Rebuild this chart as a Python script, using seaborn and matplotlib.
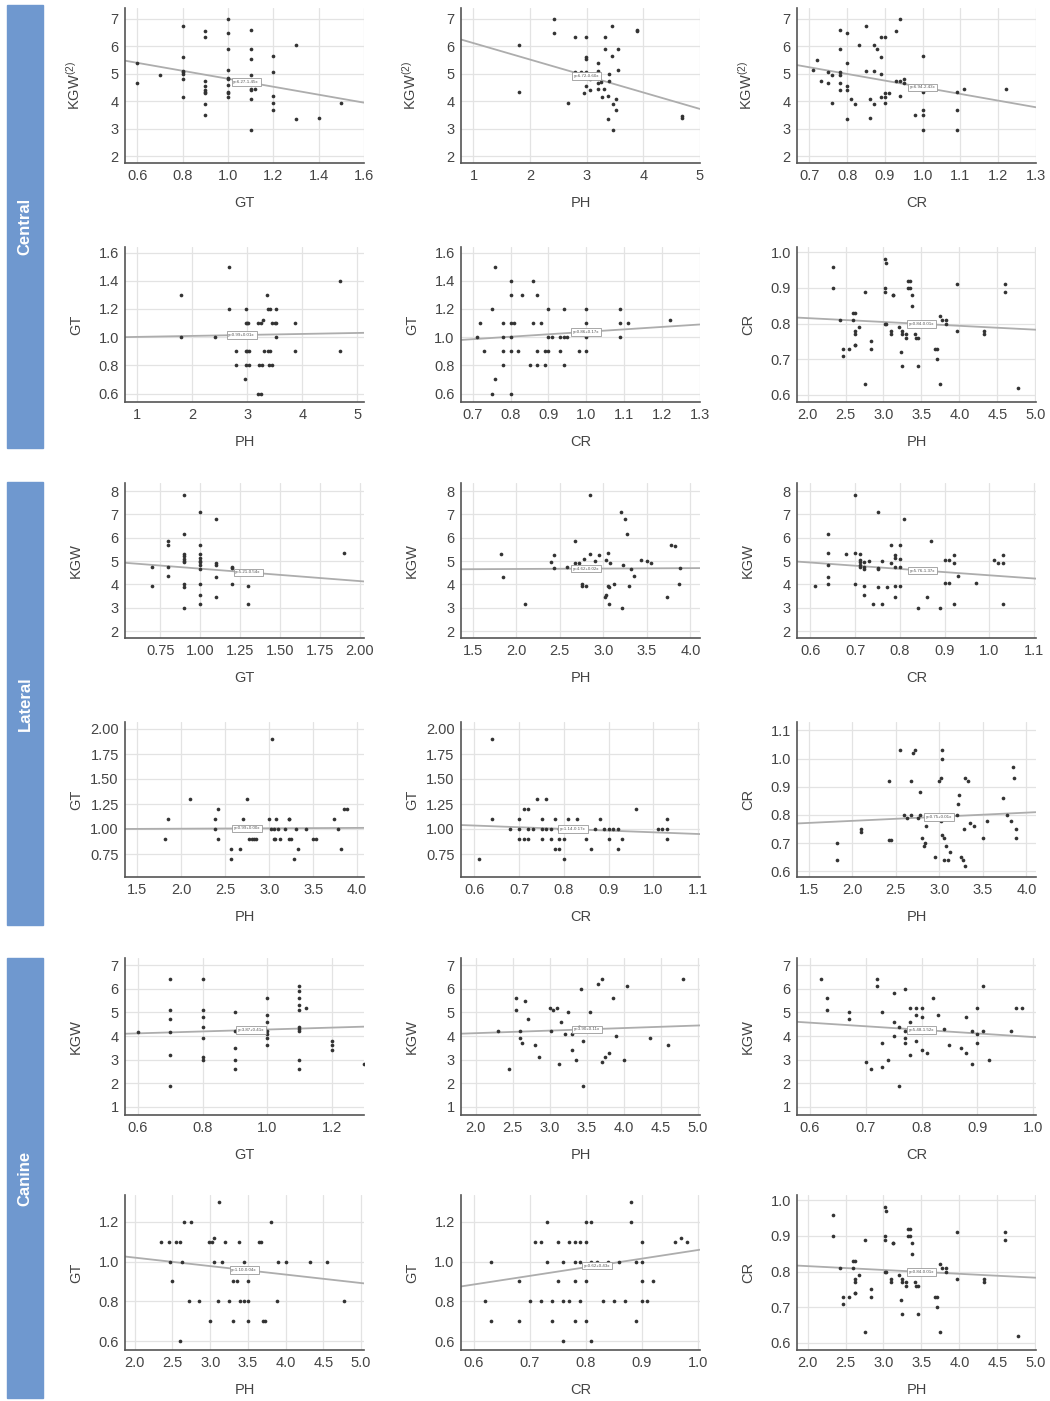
import numpy as np
import pandas as pd
import matplotlib
matplotlib.use("Agg")
import matplotlib.pyplot as plt
from matplotlib.patches import Rectangle
import seaborn as sns

# ---- data (x, y) per panel ----
central_kgw_gt = [(0.6, 5.4), (0.6, 4.65), (0.7, 4.95), (0.8, 6.75), (0.8, 5.6), (0.8, 5.1), (0.8, 5.05),
                  (0.8, 5.0), (0.8, 4.8), (0.8, 4.15), (0.9, 6.55), (0.9, 6.35), (0.9, 4.75), (0.9, 4.55),
                  (0.9, 4.4), (0.9, 4.3), (0.9, 4.35), (0.9, 3.9), (0.9, 3.5), (1.0, 7.0), (1.0, 6.5),
                  (1.0, 5.9), (1.0, 5.15), (1.0, 4.85), (1.0, 4.8), (1.0, 4.6), (1.0, 4.35), (1.0, 4.3),
                  (1.0, 4.15), (1.1, 6.6), (1.1, 5.9), (1.1, 5.55), (1.1, 4.95), (1.1, 4.45), (1.1, 4.4),
                  (1.1, 4.1), (1.1, 2.95), (1.12, 4.45), (1.2, 5.65), (1.2, 5.05), (1.2, 4.2), (1.2, 3.95),
                  (1.2, 3.7), (1.3, 6.05), (1.3, 3.35), (1.4, 3.4), (1.5, 3.95)]
central_kgw_ph = [(1.8, 6.05), (1.8, 4.35), (2.43, 7.0), (2.43, 6.5), (2.67, 3.95), (2.8, 6.35), (2.8, 5.05),
                  (2.95, 4.3), (2.98, 6.35), (2.98, 5.6), (2.98, 5.55), (2.98, 5.05), (2.98, 4.55), (3.05, 4.8),
                  (3.05, 4.4), (3.2, 5.4), (3.2, 5.1), (3.2, 4.65), (3.2, 4.45), (3.25, 4.7), (3.27, 4.15),
                  (3.3, 4.45), (3.33, 6.35), (3.33, 5.9), (3.38, 4.2), (3.38, 3.35), (3.4, 5.0), (3.4, 4.75),
                  (3.45, 6.75), (3.45, 5.65), (3.47, 3.9), (3.47, 2.95), (3.52, 4.1), (3.52, 3.7), (3.55, 5.9),
                  (3.55, 5.15), (3.88, 6.6), (3.88, 6.55), (4.68, 3.45), (4.68, 3.38), (2.9, 5.05)]
central_kgw_cr = [(0.71, 5.15), (0.72, 5.5), (0.73, 4.75), (0.75, 5.05), (0.75, 4.65), (0.76, 4.95), (0.76, 3.95),
                  (0.78, 6.6), (0.78, 5.9), (0.78, 5.05), (0.78, 4.95), (0.78, 4.65), (0.78, 4.4), (0.8, 6.5),
                  (0.8, 5.4), (0.8, 4.55), (0.8, 4.4), (0.8, 3.35), (0.81, 4.1), (0.82, 3.9), (0.83, 6.05),
                  (0.85, 6.75), (0.85, 5.1), (0.86, 4.1), (0.86, 3.4), (0.87, 6.05), (0.87, 5.1), (0.87, 3.9),
                  (0.88, 5.9), (0.89, 6.35), (0.89, 5.6), (0.89, 5.0), (0.89, 4.15), (0.9, 6.35), (0.9, 4.3),
                  (0.9, 4.15), (0.9, 3.95), (0.91, 4.3), (0.93, 6.55), (0.93, 4.75), (0.94, 7.0), (0.94, 4.75),
                  (0.94, 4.2), (0.95, 4.8), (0.95, 4.65), (0.98, 3.5), (1.0, 5.65), (1.0, 4.35), (1.0, 3.7),
                  (1.0, 3.5), (1.0, 2.95), (1.09, 4.35), (1.09, 3.7), (1.09, 2.95), (1.11, 4.45), (1.22, 4.45)]
central_gt_ph = [(1.8, 1.3), (1.8, 1.0), (2.42, 1.0), (2.67, 1.5), (2.67, 1.2), (2.8, 0.9), (2.8, 0.8), (2.95, 0.7),
                 (2.97, 1.2), (2.97, 1.1), (3.0, 1.1), (3.02, 1.1), (2.97, 0.9), (3.0, 0.9), (3.03, 0.9),
                 (2.98, 0.8), (3.03, 0.8), (3.2, 1.1), (3.25, 1.1), (3.28, 1.12), (3.22, 0.8), (3.27, 0.8),
                 (3.2, 0.6), (3.25, 0.6), (3.35, 1.3), (3.37, 1.2), (3.42, 1.2), (3.3, 0.9), (3.37, 0.9),
                 (3.42, 0.9), (3.4, 0.8), (3.45, 0.8), (3.45, 1.1), (3.5, 1.1), (3.53, 1.1), (3.52, 1.2),
                 (3.53, 1.0), (3.87, 1.1), (3.87, 0.9), (4.68, 1.4), (4.68, 0.9)]
central_gt_cr = [(0.71, 1.0), (0.72, 1.1), (0.73, 0.9), (0.75, 1.2), (0.75, 0.6), (0.76, 1.5), (0.76, 0.7),
                 (0.78, 1.1), (0.78, 1.0), (0.78, 0.9), (0.78, 0.8), (0.8, 1.4), (0.8, 1.3), (0.8, 1.1),
                 (0.8, 1.0), (0.8, 0.9), (0.8, 0.6), (0.81, 1.1), (0.82, 0.9), (0.83, 1.3), (0.85, 0.8),
                 (0.86, 1.4), (0.86, 1.1), (0.87, 1.3), (0.87, 0.9), (0.87, 0.8), (0.88, 1.1), (0.89, 0.9),
                 (0.89, 0.8), (0.9, 1.2), (0.9, 1.0), (0.9, 0.9), (0.91, 1.0), (0.93, 1.0), (0.93, 0.9),
                 (0.94, 1.2), (0.94, 1.0), (0.94, 0.8), (0.95, 1.0), (0.98, 0.9), (1.0, 1.2), (1.0, 1.1),
                 (1.0, 1.0), (1.0, 0.9), (1.09, 1.2), (1.09, 1.1), (1.09, 1.0), (1.11, 1.1), (1.22, 1.12)]
cr_ph = [(2.33, 0.96), (2.33, 0.9), (2.43, 0.81), (2.47, 0.73), (2.47, 0.71), (2.55, 0.73), (2.6, 0.83),
         (2.62, 0.83), (2.6, 0.81), (2.62, 0.78), (2.62, 0.77), (2.62, 0.74), (2.63, 0.74), (2.68, 0.79),
         (2.75, 0.89), (2.75, 0.63), (2.83, 0.75), (2.83, 0.73), (3.02, 0.98), (3.03, 0.97), (3.02, 0.9),
         (3.02, 0.89), (3.02, 0.8), (3.03, 0.8), (3.1, 0.78), (3.1, 0.77), (3.12, 0.88), (3.13, 0.88),
         (3.2, 0.79), (3.23, 0.72), (3.25, 0.78), (3.25, 0.77), (3.25, 0.68), (3.3, 0.77), (3.3, 0.76),
         (3.32, 0.92), (3.35, 0.92), (3.32, 0.9), (3.35, 0.9), (3.38, 0.88), (3.38, 0.85), (3.42, 0.77),
         (3.43, 0.76), (3.45, 0.76), (3.45, 0.68), (3.68, 0.73), (3.7, 0.73), (3.7, 0.7), (3.75, 0.82),
         (3.77, 0.81), (3.75, 0.63), (3.82, 0.81), (3.82, 0.8), (3.97, 0.91), (3.97, 0.78), (4.33, 0.78),
         (4.33, 0.77), (4.6, 0.91), (4.6, 0.89), (4.77, 0.62)]

lateral_kgw_gt = [(0.7, 4.75), (0.7, 3.95), (0.8, 5.85), (0.8, 5.7), (0.8, 4.75), (0.8, 4.35), (0.9, 7.85),
                  (0.9, 6.15), (0.9, 5.3), (0.9, 5.2), (0.9, 5.1), (0.9, 5.0), (0.9, 4.95), (0.9, 4.0),
                  (0.9, 3.9), (0.9, 3.0), (1.0, 7.1), (1.0, 5.7), (1.0, 5.3), (1.0, 5.15), (1.0, 5.0),
                  (1.0, 4.95), (1.0, 4.85), (1.0, 4.65), (1.0, 4.0), (1.0, 3.55), (1.0, 3.15), (1.1, 6.8),
                  (1.1, 4.9), (1.1, 4.85), (1.1, 4.3), (1.1, 3.45), (1.2, 4.75), (1.2, 4.7), (1.2, 4.0),
                  (1.3, 3.95), (1.3, 3.15), (1.9, 5.35)]
lateral_kgw_ph = [(1.83, 5.3), (1.85, 4.3), (2.1, 3.15), (2.4, 4.95), (2.43, 5.25), (2.43, 4.7), (2.58, 4.75),
                  (2.68, 5.85), (2.68, 4.9), (2.72, 4.9), (2.75, 4.0), (2.75, 3.95), (2.8, 3.95), (2.78, 5.1),
                  (2.85, 7.85), (2.85, 5.3), (2.9, 5.0), (2.95, 5.25), (3.02, 3.45), (3.03, 5.05), (3.03, 3.55),
                  (3.05, 5.35), (3.05, 3.95), (3.07, 3.9), (3.06, 3.15), (3.08, 4.9), (3.12, 4.0), (3.2, 7.1),
                  (3.22, 3.0), (3.23, 4.85), (3.25, 6.8), (3.27, 6.15), (3.3, 3.95), (3.32, 4.65), (3.35, 4.35),
                  (3.43, 5.05), (3.5, 5.0), (3.55, 4.9), (3.73, 3.45), (3.78, 5.7), (3.82, 5.65), (3.87, 4.0),
                  (3.88, 4.7)]
lateral_kgw_cr = [(0.61, 3.95), (0.64, 6.15), (0.64, 5.35), (0.64, 4.85), (0.64, 4.3), (0.64, 4.0), (0.68, 5.3),
                  (0.7, 7.85), (0.7, 5.35), (0.7, 4.0), (0.71, 5.3), (0.71, 5.05), (0.71, 4.95), (0.71, 4.85),
                  (0.71, 4.75), (0.72, 4.95), (0.72, 4.75), (0.72, 4.65), (0.72, 3.95), (0.72, 3.55), (0.73, 5.0),
                  (0.74, 3.15), (0.75, 7.1), (0.75, 4.7), (0.75, 4.65), (0.75, 3.9), (0.76, 5.0), (0.76, 3.15),
                  (0.77, 3.9), (0.78, 5.7), (0.78, 4.9), (0.79, 5.25), (0.79, 5.15), (0.79, 4.75), (0.79, 3.95),
                  (0.79, 3.45), (0.8, 5.7), (0.8, 5.1), (0.8, 4.75), (0.8, 3.95), (0.81, 6.8), (0.84, 3.0),
                  (0.86, 3.45), (0.87, 5.85), (0.89, 3.0), (0.9, 5.05), (0.9, 4.05), (0.91, 5.05), (0.91, 4.05),
                  (0.92, 5.25), (0.92, 4.9), (0.92, 3.15), (0.93, 4.35), (0.97, 4.05), (1.01, 5.05), (1.02, 4.9),
                  (1.03, 5.25), (1.03, 4.9), (1.03, 3.15)]
lateral_gt_ph = [(1.82, 0.9), (1.85, 1.1), (2.1, 1.3), (2.38, 1.1), (2.38, 1.0), (2.42, 1.2), (2.42, 0.9),
                 (2.57, 0.8), (2.57, 0.7), (2.67, 0.8), (2.7, 1.1), (2.75, 1.3), (2.77, 0.9), (2.8, 0.9),
                 (2.83, 0.9), (2.85, 0.9), (3.0, 1.1), (3.02, 1.0), (3.03, 1.9), (3.05, 1.0), (3.05, 0.9),
                 (3.07, 0.9), (3.08, 1.1), (3.1, 1.0), (3.12, 0.9), (3.18, 1.0), (3.22, 1.1), (3.23, 1.1),
                 (3.22, 0.9), (3.25, 0.9), (3.28, 0.7), (3.3, 1.0), (3.33, 0.8), (3.42, 1.0), (3.5, 0.9),
                 (3.53, 0.9), (3.73, 1.1), (3.78, 1.0), (3.82, 0.8), (3.85, 1.2), (3.88, 1.2), (2.9, 1.0)]
lateral_gt_cr = [(0.61, 0.7), (0.64, 1.9), (0.64, 1.1), (0.68, 1.0), (0.7, 1.1), (0.7, 1.0), (0.7, 0.9),
                 (0.71, 1.2), (0.72, 1.2), (0.71, 0.9), (0.72, 1.0), (0.72, 0.9), (0.73, 1.0), (0.74, 1.3),
                 (0.75, 1.1), (0.75, 1.0), (0.75, 0.9), (0.76, 1.3), (0.76, 1.0), (0.77, 1.0), (0.77, 0.9),
                 (0.78, 1.1), (0.78, 0.8), (0.79, 1.0), (0.79, 0.9), (0.79, 0.8), (0.8, 1.0), (0.8, 0.9),
                 (0.8, 0.7), (0.81, 1.1), (0.82, 1.0), (0.83, 1.1), (0.84, 1.0), (0.85, 0.9), (0.86, 0.8),
                 (0.87, 1.0), (0.88, 1.1), (0.89, 1.0), (0.9, 1.0), (0.9, 0.9), (0.91, 1.0), (0.92, 1.0),
                 (0.92, 0.8), (0.93, 0.9), (0.96, 1.2), (1.01, 1.0), (1.02, 1.0), (1.03, 1.0), (1.03, 1.1),
                 (1.03, 0.9)]
lateral_cr_ph = [(1.82, 0.7), (1.83, 0.64), (2.1, 0.75), (2.1, 0.74), (2.42, 0.92), (2.42, 0.71), (2.45, 0.71),
                 (2.55, 1.03), (2.6, 0.8), (2.63, 0.79), (2.67, 0.8), (2.68, 0.92), (2.7, 1.02), (2.72, 1.03),
                 (2.75, 0.79), (2.78, 0.8), (2.78, 0.88), (2.8, 0.72), (2.82, 0.69), (2.83, 0.7), (2.85, 0.76),
                 (2.95, 0.65), (3.0, 0.92), (3.02, 0.93), (3.03, 1.0), (3.03, 1.03), (3.02, 0.78), (3.03, 0.73),
                 (3.05, 0.72), (3.05, 0.64), (3.08, 0.69), (3.1, 0.64), (3.12, 0.67), (3.2, 0.8), (3.22, 0.84),
                 (3.23, 0.87), (3.25, 0.65), (3.27, 0.64), (3.28, 0.75), (3.3, 0.62), (3.3, 0.93), (3.33, 0.92),
                 (3.35, 0.77), (3.4, 0.76), (3.5, 0.72), (3.55, 0.78), (3.73, 0.86), (3.78, 0.8), (3.82, 0.78),
                 (3.85, 0.97), (3.86, 0.93), (3.88, 0.75), (3.88, 0.72)]

canine_kgw_gt = [(0.6, 4.15), (0.7, 6.4), (0.7, 5.1), (0.7, 4.7), (0.7, 4.15), (0.7, 3.2), (0.7, 1.9), (0.8, 6.4),
                 (0.8, 5.1), (0.8, 4.8), (0.8, 4.4), (0.8, 3.9), (0.8, 3.1), (0.8, 3.0), (0.9, 5.0), (0.9, 4.2),
                 (0.9, 3.5), (0.9, 3.0), (0.9, 2.6), (1.0, 5.6), (1.0, 4.9), (1.0, 4.6), (1.0, 4.2), (1.0, 4.1),
                 (1.0, 3.9), (1.0, 3.6), (1.1, 6.1), (1.1, 5.9), (1.1, 5.6), (1.1, 5.3), (1.1, 5.1), (1.1, 4.4),
                 (1.1, 4.3), (1.1, 4.2), (1.1, 3.0), (1.1, 2.6), (1.12, 5.2), (1.2, 3.8), (1.2, 3.6),
                 (1.2, 3.4), (1.3, 2.8)]
canine_kgw_ph = [(2.3, 4.2), (2.45, 2.6), (2.55, 5.6), (2.55, 5.1), (2.6, 4.2), (2.6, 3.9), (2.62, 3.7),
                 (2.67, 5.5), (2.7, 4.7), (2.8, 3.6), (2.85, 3.1), (3.0, 5.2), (3.02, 4.2), (3.05, 5.1),
                 (3.1, 5.2), (3.12, 2.8), (3.15, 4.6), (3.2, 4.1), (3.25, 5.0), (3.3, 3.4), (3.35, 3.0),
                 (3.4, 4.4), (3.42, 6.0), (3.45, 1.9), (3.45, 3.8), (3.5, 4.3), (3.55, 5.0), (3.6, 4.3),
                 (3.65, 6.2), (3.7, 6.4), (3.7, 2.9), (3.75, 3.1), (3.8, 3.3), (3.85, 5.6), (3.9, 4.0),
                 (4.0, 3.0), (4.05, 6.1), (4.35, 3.9), (4.6, 3.6), (4.8, 6.4), (3.3, 4.1)]
canine_kgw_cr = [(0.62, 6.4), (0.63, 5.6), (0.63, 5.1), (0.67, 5.0), (0.67, 4.7), (0.7, 2.9), (0.71, 2.6),
                 (0.72, 6.4), (0.72, 6.1), (0.73, 5.0), (0.73, 3.7), (0.73, 2.7), (0.74, 3.0), (0.75, 5.8),
                 (0.75, 4.6), (0.75, 4.0), (0.76, 4.4), (0.76, 1.9), (0.77, 6.0), (0.77, 4.2), (0.77, 3.9),
                 (0.77, 3.7), (0.78, 5.2), (0.78, 4.6), (0.78, 3.2), (0.79, 5.2), (0.79, 4.9), (0.79, 4.2),
                 (0.79, 3.8), (0.8, 5.2), (0.8, 4.8), (0.8, 4.2), (0.8, 3.4), (0.81, 3.3), (0.82, 5.6),
                 (0.83, 4.9), (0.84, 4.3), (0.85, 3.6), (0.87, 3.5), (0.88, 4.8), (0.88, 3.3), (0.89, 4.2),
                 (0.89, 2.8), (0.9, 5.2), (0.9, 4.1), (0.9, 3.7), (0.91, 6.1), (0.91, 4.2), (0.92, 3.0),
                 (0.96, 4.2), (0.97, 5.2), (0.98, 5.2)]
canine_gt_ph = [(2.35, 1.1), (2.45, 1.1), (2.47, 1.0), (2.5, 0.9), (2.55, 1.1), (2.6, 1.1), (2.6, 0.6),
                (2.62, 1.0), (2.65, 1.2), (2.72, 0.8), (2.75, 1.2), (2.85, 0.8), (2.98, 1.1), (3.0, 0.7),
                (3.03, 1.1), (3.05, 1.12), (3.05, 1.0), (3.1, 0.8), (3.12, 1.3), (3.15, 1.0), (3.2, 1.1),
                (3.25, 0.8), (3.3, 0.9), (3.3, 0.7), (3.35, 0.9), (3.38, 1.1), (3.4, 0.8), (3.45, 1.0),
                (3.45, 0.8), (3.5, 0.7), (3.5, 0.9), (3.5, 0.8), (3.65, 1.1), (3.68, 1.1), (3.7, 0.7),
                (3.73, 0.7), (3.8, 1.2), (3.88, 0.8), (3.9, 1.0), (4.0, 1.0), (4.33, 1.0), (4.55, 1.0),
                (4.78, 0.8)]
canine_gt_cr = [(0.62, 0.8), (0.63, 1.0), (0.63, 0.7), (0.68, 0.7), (0.68, 0.9), (0.7, 0.8), (0.71, 1.1),
                (0.72, 1.1), (0.72, 0.8), (0.73, 1.2), (0.73, 1.0), (0.74, 0.8), (0.74, 0.7), (0.75, 1.1),
                (0.75, 0.9), (0.76, 1.0), (0.76, 0.8), (0.76, 0.6), (0.77, 1.1), (0.77, 0.8), (0.78, 1.1),
                (0.78, 1.0), (0.78, 0.9), (0.78, 0.7), (0.79, 1.1), (0.79, 1.0), (0.79, 0.8), (0.8, 1.2),
                (0.8, 1.1), (0.8, 0.9), (0.8, 0.7), (0.81, 1.2), (0.81, 1.0), (0.81, 0.6), (0.82, 1.0),
                (0.83, 0.8), (0.84, 1.0), (0.85, 0.8), (0.86, 1.0), (0.87, 0.8), (0.88, 1.3), (0.88, 1.2),
                (0.89, 1.0), (0.89, 0.7), (0.9, 1.1), (0.9, 1.0), (0.9, 0.9), (0.9, 0.8), (0.91, 0.8),
                (0.92, 0.9), (0.96, 1.1), (0.97, 1.12), (0.98, 1.1)]

groups = ["Central", "Lateral", "Canine"]

# regression line: intercept, slope (row-major order)
line_intercepts = [6.27, 6.72, 6.94, 0.995, 0.864, 0.837,
                   5.21, 4.625, 5.76, 0.995, 1.136, 0.75,
                   3.87, 3.905, 5.477, 1.105, 0.625, 0.837]
line_slopes = [-1.45, -0.60, -2.43, 0.007, 0.174, -0.0108,
               -0.535, 0.018, -1.37, 0.004, -0.169, 0.0146,
               0.405, 0.108, -1.52, -0.0426, 0.433, -0.0108]

kgw2 = r"KGW$^{(2)}$"
# panel specs: data, xlabel, ylabel, xlim, ylim, xticks, yticks, tick formats, label x position
panels = [
    (central_kgw_gt, "GT", kgw2, (0.545, 1.6), (1.75, 7.4), np.arange(0.6, 1.61, 0.2), range(2, 8), "%.1f", "%d", 1.08),
    (central_kgw_ph, "PH", kgw2, (0.78, 5.0), (1.75, 7.4), range(1, 6), range(2, 8), "%d", "%d", 3.0),
    (central_kgw_cr, "CR", kgw2, (0.667, 1.3), (1.75, 7.4), np.arange(0.7, 1.31, 0.1), range(2, 8), "%.1f", "%d", 1.0),
    (central_gt_ph, "PH", "GT", (0.78, 5.12), (0.54, 1.64), range(1, 6), np.arange(0.6, 1.61, 0.2), "%d", "%.1f", 2.9),
    (central_gt_cr, "CR", "GT", (0.669, 1.3), (0.54, 1.64), np.arange(0.7, 1.31, 0.1), np.arange(0.6, 1.61, 0.2), "%.1f", "%.1f", 1.0),
    (cr_ph, "PH", "CR", (1.86, 5.01), (0.58, 1.015), np.arange(2.0, 5.01, 0.5), np.arange(0.6, 1.01, 0.1), "%.1f", "%.1f", 3.5),
    (lateral_kgw_gt, "GT", "KGW", (0.53, 2.025), (1.7, 8.35), np.arange(0.75, 2.01, 0.25), range(2, 9), "%.2f", "%d", 1.3),
    (lateral_kgw_ph, "PH", "KGW", (1.366, 4.11), (1.7, 8.35), np.arange(1.5, 4.01, 0.5), range(2, 9), "%.1f", "%d", 2.8),
    (lateral_kgw_cr, "CR", "KGW", (0.57, 1.104), (1.7, 8.35), np.arange(0.6, 1.11, 0.1), range(2, 9), "%.1f", "%d", 0.85),
    (lateral_gt_ph, "PH", "GT", (1.364, 4.076), (0.52, 2.07), np.arange(1.5, 4.01, 0.5), np.arange(0.75, 2.01, 0.25), "%.1f", "%.2f", 2.75),
    (lateral_gt_cr, "CR", "GT", (0.57, 1.104), (0.52, 2.07), np.arange(0.6, 1.11, 0.1), np.arange(0.75, 2.01, 0.25), "%.1f", "%.2f", 0.82),
    (lateral_cr_ph, "PH", "CR", (1.366, 4.11), (0.58, 1.13), np.arange(1.5, 4.01, 0.5), np.arange(0.6, 1.11, 0.1), "%.1f", "%.1f", 3.0),
    (canine_kgw_gt, "GT", "KGW", (0.56, 1.3), (0.66, 7.3), np.arange(0.6, 1.21, 0.2), range(1, 8), "%.1f", "%d", 0.95),
    (canine_kgw_ph, "PH", "KGW", (1.8, 5.03), (0.66, 7.3), np.arange(2.0, 5.01, 0.5), range(1, 8), "%.1f", "%d", 3.5),
    (canine_kgw_cr, "CR", "KGW", (0.577, 1.005), (0.66, 7.3), np.arange(0.6, 1.01, 0.1), range(1, 8), "%.1f", "%d", 0.8),
    (canine_gt_ph, "PH", "GT", (1.87, 5.04), (0.555, 1.335), np.arange(2.0, 5.01, 0.5), np.arange(0.6, 1.21, 0.2), "%.1f", "%.1f", 3.45),
    (canine_gt_cr, "CR", "GT", (0.577, 1.004), (0.555, 1.335), np.arange(0.6, 1.01, 0.1), np.arange(0.6, 1.21, 0.2), "%.1f", "%.1f", 0.82),
    (cr_ph, "PH", "CR", (1.86, 5.01), (0.58, 1.015), np.arange(2.0, 5.01, 0.5), np.arange(0.6, 1.01, 0.1), "%.1f", "%.1f", 3.5),
]

sns.set_style("white")
plt.rcParams['font.family'] = ['Liberation Sans', 'DejaVu Sans']
plt.rcParams['mathtext.fontset'] = 'custom'
plt.rcParams['mathtext.rm'] = 'Liberation Sans'
plt.rcParams['mathtext.it'] = 'Liberation Sans'

W, H = 1050, 1401
fig = plt.figure(figsize=(W / 100, H / 100), dpi=100)

col_x = [(125, 364), (461, 700), (797, 1036)]
row_y = [(8, 163), (247, 402), (483, 638), (722, 877), (958, 1115), (1195, 1350)]
bands = [(5, 448), (482, 925), (958, 1398)]
band_color = "#6f98cf"
txt_color = "#444444"

for (y0, y1), name in zip(bands, groups):
    fig.patches.append(Rectangle((7 / W, 1 - y1 / H), 36 / W, (y1 - y0) / H,
                                 transform=fig.transFigure, color=band_color, zorder=0))
    fig.text(25 / W, 1 - (y0 + y1) / 2 / H, name, rotation=90, color="white",
             fontsize=12, fontweight="bold", ha="center", va="center")

for i, spec in enumerate(panels):
    pts, xl, yl, xlim, ylim, xt, yt, xf, yf, lab_x = spec
    r, c = divmod(i, 3)
    x0, x1 = col_x[c]
    y0, y1 = row_y[r]
    ax = fig.add_axes([x0 / W, 1 - y1 / H, (x1 - x0) / W, (y1 - y0) / H])
    df = pd.DataFrame(pts, columns=["x", "y"])
    sns.scatterplot(data=df, x="x", y="y", ax=ax, s=7, color="#333333", linewidth=0, zorder=3)

    b, m = line_intercepts[i], line_slopes[i]
    ax.axline((0, b), slope=m, color="#adadad", lw=1.3, zorder=2)
    ax.text(lab_x, b + m * lab_x, f"y={b:.2f}{m:+.2f}x", fontsize=3.2, color="#555555",
            ha="center", va="center", zorder=4,
            bbox=dict(boxstyle="square,pad=0.4", fc="white", ec="#999999", lw=0.6))

    ax.set_xlim(*xlim)
    ax.set_ylim(*ylim)
    ax.set_xticks(list(xt))
    ax.set_yticks(list(yt))
    ax.xaxis.set_major_formatter(matplotlib.ticker.FormatStrFormatter(xf))
    ax.yaxis.set_major_formatter(matplotlib.ticker.FormatStrFormatter(yf))
    ax.grid(True, color="#e3e3e3", lw=0.9)
    ax.set_axisbelow(True)
    for s in ["top", "right"]:
        ax.spines[s].set_visible(False)
    for s in ["left", "bottom"]:
        ax.spines[s].set_color("#555555")
        ax.spines[s].set_linewidth(1.2)
    ax.tick_params(axis="both", direction="inout", length=5, width=1, color="#555555",
                   labelsize=10.5, labelcolor=txt_color, pad=2)
    ax.set_xlabel(xl, fontsize=10.5, color=txt_color)
    ax.set_ylabel(yl, fontsize=10.5, color=txt_color)
    hpx = y1 - y0
    wpx = x1 - x0
    ax.xaxis.set_label_coords(0.5, -33 / hpx)
    ax.yaxis.set_label_coords(-42 / wpx, 0.5)

fig.savefig("out.png", dpi=100)
